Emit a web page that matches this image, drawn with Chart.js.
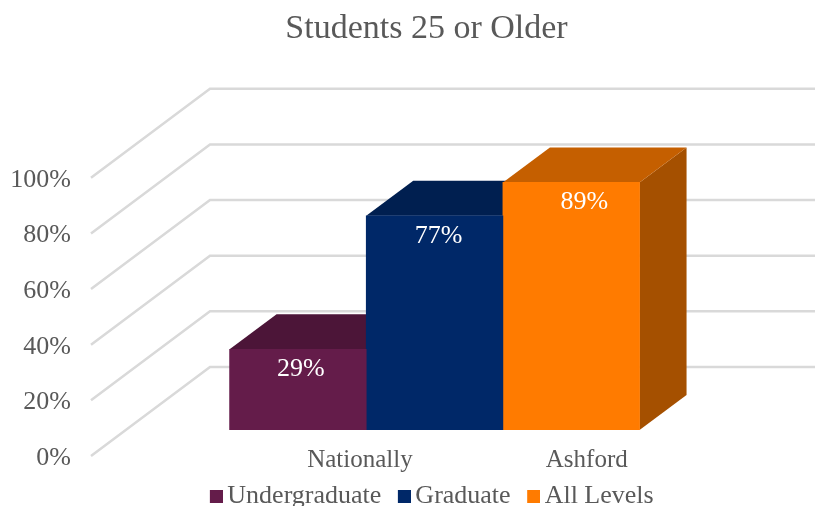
<!DOCTYPE html>
<html><head><meta charset="utf-8">
<style>html,body{margin:0;padding:0;background:#fff}#w{width:815px;height:506px;position:relative}</style>
<script src="https://cdn.jsdelivr.net/npm/chart.js@4"></script></head>
<body><div id="w"><canvas id="c"></canvas></div>
<script>
const titleText = "Students 25 or Older";
const seriesNames = ["Undergraduate", "Graduate", "All Levels"];
const undergraduate = [29];
const graduate = [77];
const allLevels = [89];
const barSlots = [1, 2, 3];
const categories = ["Nationally", "Ashford"];
const categorySlots = [1.71, 3.37];
const yTicks = [0, 20, 40, 60, 80, 100];
const frontColors = ["#641c4a", "#002868", "#ff7b00"];
const topColors = ["#4c1538", "#001f50", "#c55f00"];
const sideColors = ["#42122f", "#001a44", "#a55000"];
const labelNudge = [3, 4, 13];
const FONT = "'Liberation Serif', serif";
const TEXT = "#595959";
const wall = {dx: 119, dy: -89};
const front = {dx: 35, dy: -26};
const depth = {dx: 47, dy: -35};
const titleShift = 19, legendShift = 26;

function swatch(color) {
  const cv = document.createElement('canvas');
  cv.width = 18; cv.height = 13;
  const g = cv.getContext('2d');
  g.fillStyle = color; g.fillRect(5, 0, 13, 13);
  return cv;
}
function poly(ctx, pts, fill) {
  ctx.beginPath();
  pts.forEach((p, i) => i ? ctx.lineTo(p[0], p[1]) : ctx.moveTo(p[0], p[1]));
  ctx.closePath(); ctx.fillStyle = fill; ctx.fill();
}
const scene = {
  id: 'scene',
  afterLayout(chart) {
    chart.titleBlock.left += titleShift; chart.titleBlock.right += titleShift;
    chart.legend.left += legendShift; chart.legend.right += legendShift;
    const x = chart.scales.x;
    x.top -= 11; x.bottom += 30;
  },
  beforeDatasetsDraw(chart) {
    const {ctx, scales: {y}, chartArea: a} = chart;
    ctx.save();
    ctx.strokeStyle = '#d9d9d9'; ctx.lineWidth = 2.5; ctx.lineJoin = 'miter';
    yTicks.forEach(v => {
      const p = y.getPixelForValue(v);
      ctx.beginPath();
      ctx.moveTo(a.left, p);
      ctx.lineTo(a.left + wall.dx, p + wall.dy);
      ctx.lineTo(chart.width, p + wall.dy);
      ctx.stroke();
    });
    ctx.translate(front.dx, front.dy);
    chart.data.datasets.forEach((ds, i) => {
      const b = chart.getDatasetMeta(i).data[0];
      const l = b.x - b.width / 2, r = b.x + b.width / 2;
      poly(ctx, [[r, b.y], [r + depth.dx, b.y + depth.dy], [r + depth.dx, b.base + depth.dy], [r, b.base]], sideColors[i]);
      poly(ctx, [[l, b.y], [l + depth.dx, b.y + depth.dy], [r + depth.dx, b.y + depth.dy], [r, b.y]], topColors[i]);
    });
    ctx.restore();
    ctx.save();
    ctx.translate(front.dx, front.dy);
  },
  afterDatasetsDraw(chart) {
    const ctx = chart.ctx;
    ctx.fillStyle = '#ffffff';
    ctx.font = "26px " + FONT;
    ctx.textAlign = 'center'; ctx.textBaseline = 'middle';
    chart.data.datasets.forEach((ds, i) => {
      const b = chart.getDatasetMeta(i).data[0];
      ctx.fillText(ds.data[0].y + '%', b.x + labelNudge[i], b.y + 20);
    });
    ctx.restore();
  }
};
const values = [undergraduate, graduate, allLevels];
new Chart(document.getElementById('c'), {
  type: 'bar',
  data: {
    datasets: seriesNames.map((n, i) => ({
      label: n,
      data: values[i].map(v => ({x: barSlots[i], y: v})),
      backgroundColor: frontColors[i],
      borderWidth: 0,
      grouped: false,
      barPercentage: 1,
      categoryPercentage: 1
    }))
  },
  options: {
    responsive: true, maintainAspectRatio: false, animation: false,
    layout: {padding: {left: 0, right: 0, top: 0, bottom: -13}},
    plugins: {
      tooltip: {enabled: false},
      title: {display: true, text: titleText, color: TEXT,
        font: {family: FONT, size: 34, weight: 'normal'},
        padding: {top: 9, bottom: 128}},
      legend: {position: 'bottom',
        labels: {font: {family: FONT, size: 26}, color: TEXT, padding: 20, boxWidth: 1, boxHeight: 13, usePointStyle: true,
          generateLabels(chart) {
            return Chart.defaults.plugins.legend.labels.generateLabels(chart).map((it, i) => {
              it.pointStyle = swatch(frontColors[i]); return it;
            });
          }}}
    },
    scales: {
      x: {type: 'linear', min: -0.258, max: 5.04, offset: false,
        grid: {display: false, offset: false, drawTicks: false}, border: {display: false},
        afterBuildTicks(s) { s.ticks = categorySlots.map(v => ({value: v})); },
        afterFit(s) { s.height = 7; },
        ticks: {font: {family: FONT, size: 25}, color: TEXT, padding: 0, autoSkip: false, maxRotation: 0, minRotation: 0,
          callback: (v, i) => categories[i]}},
      y: {min: 0, max: 100,
        grid: {display: false, drawTicks: false}, border: {display: false},
        afterBuildTicks(s) { s.ticks = yTicks.map(v => ({value: v})); },
        afterFit(s) { s.width = 91; },
        ticks: {font: {family: FONT, size: 26}, color: TEXT, padding: 20, labelOffset: 2, autoSkip: false, callback: v => v + '%'}}
    }
  },
  plugins: [scene]
});
</script></body></html>
